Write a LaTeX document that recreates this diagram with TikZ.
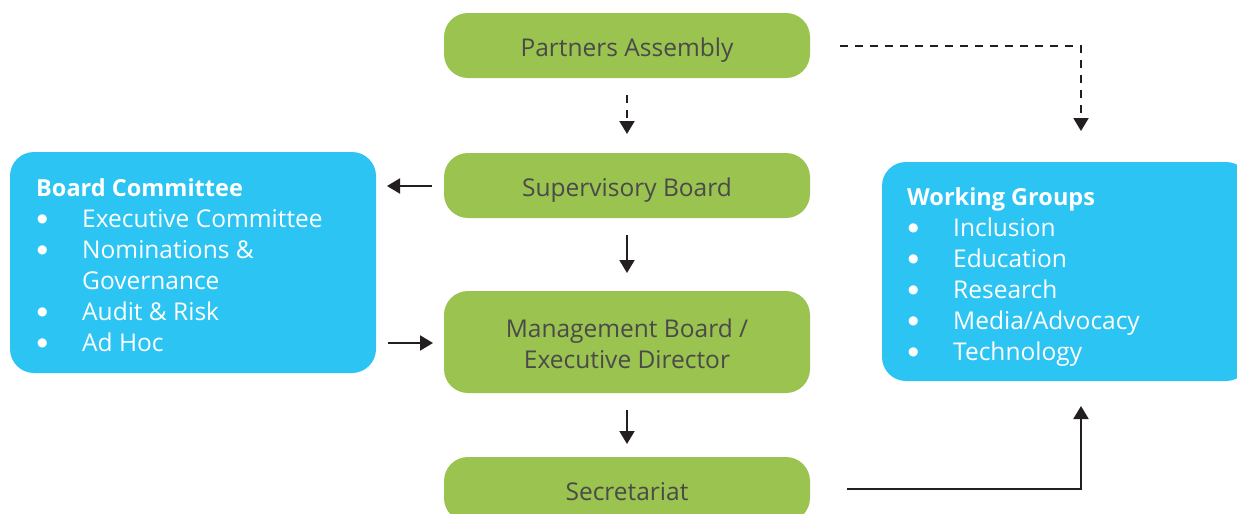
\documentclass[tikz,border=0pt]{standalone}
\usepackage{fontspec}
\setmainfont{Open Sans}
\newfontfamily\djf{DejaVu Sans}
\usetikzlibrary{arrows.meta}
\definecolor{gr}{HTML}{9BC34F}
\definecolor{bl}{HTML}{2BC4F3}
\definecolor{tx}{HTML}{4A4A4A}
\definecolor{ln}{HTML}{231F20}
\tikzset{
  gbox/.style={fill=gr, draw=none, rounded corners=24pt, minimum width=366pt, text=tx, font=\fontsize{24.5}{31}\selectfont, align=center, text height=21pt, text depth=0pt},
  bbox/.style={fill=bl, draw=none, rounded corners=24pt, minimum width=366pt, minimum height=221pt},
  btext/.style={text=white, font=\fontsize{24.5}{31}\selectfont, align=left, anchor=north west, inner sep=0pt},
  arr/.style={draw=ln, line width=2pt, -{Triangle[width=15pt,length=13pt]}},
  darr/.style={arr, dash pattern=on 8pt off 7pt},
}
\newcommand{\bu}{\makebox[46pt][l]{\hspace{1pt}\raisebox{5pt}{\djf\fontsize{12}{12}\selectfont ●}}}
\newcommand{\ttl}[1]{{\fontsize{23.5}{31}\selectfont\textbf{#1}}}
\begin{document}
\begin{tikzpicture}[x=1pt,y=-1pt]
\useasboundingbox (0,0) rectangle (1237,514);
\clip (0,0) rectangle (1237,514);
\node[gbox, minimum height=65pt] (pa) at (627,45.5) {Partners Assembly};
\node[gbox, minimum height=65pt] (sb) at (627,185.5) {Supervisory Board};
\node[gbox, minimum height=102pt, text height=53pt] (mb) at (627,342) {Management Board /\\Executive Director};
\node[gbox, minimum height=65pt, text height=22pt] (se) at (627,489.5) {Secretariat};
\node[bbox] (bc) at (193,262.5) {};
\node[bbox, minimum width=368pt, minimum height=219pt] (wg) at (1066,271.5) {};
\node[btext] (bct) at (36,178.5) {\ttl{Board Committee}\\\bu Executive Committee\\\bu Nominations \&\\\hspace{46pt}Governance\\\bu Audit \& Risk\\\bu Ad Hoc};
\node[btext] (wgt) at (907,187.5) {\ttl{Working Groups}\\\bu Inclusion\\\bu Education\\\bu Research\\\bu Media/Advocacy\\\bu Technology};
% coordinates
\coordinate (a1) at (627,95); \coordinate (a2) at (627,134);
\coordinate (b1) at (627,235); \coordinate (b2) at (627,273);
\coordinate (c1) at (627,410); \coordinate (c2) at (627,444);
\coordinate (d1) at (432,186); \coordinate (d2) at (387,186);
\coordinate (e1) at (388,343); \coordinate (e2) at (433,343);
\coordinate (f1) at (840,46); \coordinate (f2) at (1081,131);
\coordinate (g1) at (847,489); \coordinate (g2) at (1081,406);
\draw[darr] (a1) -- (a2);
\draw[arr] (b1) -- (b2);
\draw[arr] (c1) -- (c2);
\draw[arr] (d1) -- (d2);
\draw[arr] (e1) -- (e2);
\draw[darr] (f1) -| (f2);
\draw[arr] (g1) -| (g2);
\end{tikzpicture}
\end{document}
